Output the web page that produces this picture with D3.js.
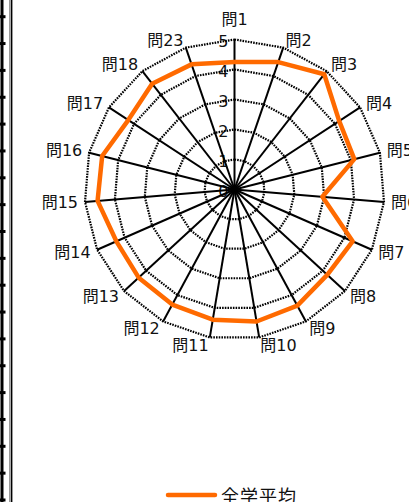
<!DOCTYPE html>
<html>
<head>
<meta charset="utf-8">
<script src="https://cdn.jsdelivr.net/npm/d3@7"></script>
<style>
  body { margin: 0; background: #fff; }
  text { font-family: "DejaVu Sans", "Noto Sans CJK JP", sans-serif; fill: #111; }
</style>
</head>
<body>
<div id="radar"></div>
<script>
// Chart data
var categories = ["問1", "問2", "問3", "問4", "問5", "問6", "問7", "問8", "問9", "問10",
                  "問11", "問12", "問13", "問14", "問15", "問16", "問17", "問18", "問23"];
var averageValues = [4.25, 4.49, 4.87, 4.17, 4.12, 2.94, 4.3, 4.2, 4.4, 4.46,
                     4.4, 4.36, 4.34, 4.3, 4.58, 4.55, 4.23, 4.47, 4.41];
var tickValues = [0, 1, 2, 3, 4, 5];
var seriesName = "全学平均";

// SVG area
var svgWidth = 409;
var svgHeight = 502;
var cx = 234.5;
var cy = 189.5;
var radius = 150;

var svg = d3.select("#radar")
  .append("svg")
  .attr("width", svgWidth)
  .attr("height", svgHeight);

// left edge leftovers (ruler + double frame line)
var edge = svg.append("g");
edge.append("line").attr("x1", 2).attr("x2", 2).attr("y1", 0).attr("y2", svgHeight)
  .attr("stroke", "#000").attr("stroke-width", 3);
d3.range(0, 19).forEach(function(k) {
  var y = 16.7 + k * 26.85;
  edge.append("line").attr("x1", 0).attr("x2", 5.5).attr("y1", y).attr("y2", y)
    .attr("stroke", "#000").attr("stroke-width", 3);
});
edge.append("line").attr("x1", 9.7).attr("x2", 9.7).attr("y1", 0).attr("y2", svgHeight)
  .attr("stroke", "#999").attr("stroke-width", 1.4);
edge.append("line").attr("x1", 11.6).attr("x2", 11.6).attr("y1", 0).attr("y2", svgHeight)
  .attr("stroke", "#000").attr("stroke-width", 1.6);

// scales
var rScale = d3.scaleLinear().domain([0, 5]).range([0, radius]);
var angleScale = d3.scaleLinear().domain([0, categories.length]).range([0, 2 * Math.PI]);

var chartGroup = svg.append("g")
  .attr("transform", `translate(${cx}, ${cy})`);

function point(i, v) {
  var a = angleScale(i);
  return [rScale(v) * Math.sin(a), -rScale(v) * Math.cos(a)];
}

// tick labels on the first axis
chartGroup.selectAll(".tick-label")
  .data(tickValues)
  .enter()
  .append("text")
  .attr("class", "tick-label")
  .attr("x", -6)
  .attr("y", d => -rScale(d) + 2)
  .attr("text-anchor", "end")
  .attr("dominant-baseline", "central")
  .attr("font-size", "16px")
  .text(d => d);

// dotted rings
var ringLine = d3.line().curve(d3.curveLinearClosed);
chartGroup.selectAll(".ring")
  .data(tickValues.slice(1))
  .enter()
  .append("path")
  .attr("class", "ring")
  .attr("d", t => ringLine(categories.map((c, i) => point(i, t))))
  .attr("fill", "none")
  .attr("stroke", "#000")
  .attr("stroke-width", 2.2)
  .attr("stroke-dasharray", "1.6,1.1");

// spokes
chartGroup.selectAll(".spoke")
  .data(categories)
  .enter()
  .append("line")
  .attr("class", "spoke")
  .attr("x1", 0).attr("y1", 0)
  .attr("x2", (c, i) => point(i, 5)[0])
  .attr("y2", (c, i) => point(i, 5)[1])
  .attr("stroke", "#000")
  .attr("stroke-width", 2);

// category labels
chartGroup.selectAll(".cat-label")
  .data(categories)
  .enter()
  .append("text")
  .attr("class", "cat-label")
  .attr("font-size", "16px")
  .attr("dominant-baseline", "central")
  .attr("text-anchor", function(c, i) {
    var s = Math.sin(angleScale(i));
    return s > 0.02 ? "start" : (s < -0.02 ? "end" : "middle");
  })
  .attr("x", function(c, i) {
    return point(i, 5)[0] + 7 * Math.sin(angleScale(i));
  })
  .attr("y", function(c, i) {
    var a = angleScale(i);
    var extra = Math.abs(Math.sin(a)) < 0.02 ? 12 : 0;
    return point(i, 5)[1] - 8 * Math.cos(a) - extra;
  })
  .text(d => d);

// data line
var dataLine = d3.line().curve(d3.curveLinearClosed);
chartGroup.append("path")
  .attr("d", dataLine(averageValues.map((v, i) => point(i, v))))
  .attr("fill", "none")
  .attr("stroke", "#ff6a00")
  .attr("stroke-width", 4.5)
  .attr("stroke-linejoin", "round");

// legend
var legend = svg.append("g");
legend.append("line")
  .attr("x1", 168).attr("x2", 215).attr("y1", 495).attr("y2", 495)
  .attr("stroke", "#ff6a00").attr("stroke-width", 4.5).attr("stroke-linecap", "round");
legend.append("text")
  .attr("x", 221).attr("y", 496)
  .attr("dominant-baseline", "central")
  .attr("font-size", "18px")
  .attr("letter-spacing", "1px")
  .text(seriesName);
</script>
</body>
</html>
